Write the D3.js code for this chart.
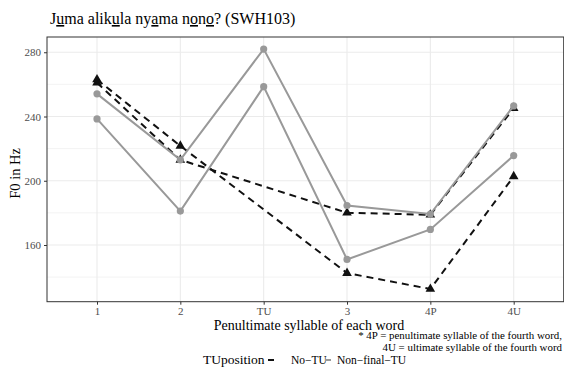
<!DOCTYPE html>
<html>
<head>
<meta charset="utf-8">
<script src="https://cdn.jsdelivr.net/npm/d3@7"></script>
<style>
  body { margin: 0; background: #fff; }
  text { font-family: "Liberation Serif", "DejaVu Serif", serif; }
</style>
</head>
<body>
<script>
// categories on the x axis
var positions = ['1', '2', 'TU', '3', '4P', '4U'];

// F0 values (Hz); null = no value at that position
var noTU_a = [263, 221.7, null, 142.5, 132.6, 202.7];
var noTU_b = [261, 213, null, 180.1, 178.8, 245.2];
var nonFinal_a = [254.1, 213, 282, 184.6, 179.3, 246.6];
var nonFinal_b = [238.5, 181.1, 258.6, 151, 169.7, 215.7];

var yTicks = [160, 200, 240, 280];
var yMinor = [140, 180, 220, 260];

var width = 564, height = 370;
var pLeft = 47, pRight = 563.7, pTop = 37, pBottom = 301.7;

var svg = d3.select('body').append('svg').attr('width', width).attr('height', height);

var x = d3.scalePoint().domain(positions).range([pLeft, pRight]).padding(0.6);
var y = d3.scaleLinear().domain([124.7, 289.5]).range([pBottom, pTop]);

// title with underlined vowels
var title = svg.append('text').attr('x', 50).attr('y', 24).attr('font-size', 16).attr('fill', '#000');
var parts = [['J', 0], ['u', 1], ['ma alik', 0], ['u', 1], ['la ny', 0], ['a', 1], ['ma n', 0], ['o', 1], ['n', 0], ['o', 1], ['? (SWH103)', 0]];
parts.forEach(function (p) {
  var t = title.append('tspan').text(p[0]);
  if (p[1]) t.attr('text-decoration', 'underline');
});

// grid
var grid = svg.append('g');
grid.selectAll('.minor').data(yMinor).enter().append('line')
  .attr('x1', pLeft).attr('x2', pRight)
  .attr('y1', function (d) { return y(d); }).attr('y2', function (d) { return y(d); })
  .attr('stroke', '#ebebeb').attr('stroke-width', 0.6);
grid.selectAll('.major').data(yTicks).enter().append('line')
  .attr('x1', pLeft).attr('x2', pRight)
  .attr('y1', function (d) { return y(d); }).attr('y2', function (d) { return y(d); })
  .attr('stroke', '#ebebeb').attr('stroke-width', 1.1);
grid.selectAll('.vert').data(positions).enter().append('line')
  .attr('y1', pTop).attr('y2', pBottom)
  .attr('x1', function (d) { return x(d); }).attr('x2', function (d) { return x(d); })
  .attr('stroke', '#ebebeb').attr('stroke-width', 1.1);

// axes
var xAxis = svg.append('g').attr('transform', 'translate(0,' + pBottom + ')')
  .call(d3.axisBottom(x).tickSize(3).tickPadding(3));
var yAxis = svg.append('g').attr('transform', 'translate(' + pLeft + ',0)')
  .call(d3.axisLeft(y).tickValues(yTicks).tickSize(3).tickPadding(3));
[xAxis, yAxis].forEach(function (a) {
  a.attr('font-family', null);
  a.select('.domain').remove();
  a.selectAll('line').attr('stroke', '#333');
  a.selectAll('text').attr('fill', '#4d4d4d').attr('font-size', 11);
});

svg.append('rect').attr('x', pLeft).attr('y', pTop).attr('width', pRight - pLeft).attr('height', pBottom - pTop)
  .attr('fill', 'none').attr('stroke', '#333').attr('stroke-width', 1);

function pts(vals) {
  return positions.map(function (p, i) { return { p: p, v: vals[i] }; })
    .filter(function (d) { return d.v != null; });
}

var line = d3.line().x(function (d) { return x(d.p); }).y(function (d) { return y(d.v); });

var black = [noTU_a, noTU_b];
var grey = [nonFinal_a, nonFinal_b];
var tri = d3.symbol().type(d3.symbolTriangle).size(40);

black.forEach(function (s) {
  svg.append('path').datum(pts(s)).attr('d', line)
    .attr('fill', 'none').attr('stroke', '#111').attr('stroke-width', 2)
    .attr('stroke-dasharray', '7,5');
});
black.forEach(function (s) {
  svg.selectAll(null).data(pts(s)).enter().append('path')
    .attr('d', tri)
    .attr('transform', function (d) { return 'translate(' + x(d.p) + ',' + y(d.v) + ')'; })
    .attr('fill', '#111');
});
grey.forEach(function (s) {
  svg.append('path').datum(pts(s)).attr('d', line)
    .attr('fill', 'none').attr('stroke', '#999').attr('stroke-width', 2);
});
grey.forEach(function (s) {
  svg.selectAll(null).data(pts(s)).enter().append('circle')
    .attr('cx', function (d) { return x(d.p); })
    .attr('cy', function (d) { return y(d.v); })
    .attr('r', 3.6).attr('fill', '#999');
});

// axis titles
svg.append('text').attr('x', 309).attr('y', 330).attr('text-anchor', 'middle')
  .attr('font-size', 14).text('Penultimate syllable of each word');
svg.append('text').attr('transform', 'translate(20,' + ((pTop + pBottom) / 2 + 4) + ') rotate(-90)')
  .attr('text-anchor', 'middle').attr('font-size', 14.5).text('F0 in Hz');

// caption
svg.append('text').attr('x', 562).attr('y', 339).attr('text-anchor', 'end').attr('font-size', 10.9)
  .text('* 4P = penultimate syllable of the fourth word,');
svg.append('text').attr('x', 562).attr('y', 350.5).attr('text-anchor', 'end').attr('font-size', 10.9)
  .text('4U = ultimate syllable of the fourth word');

// legend
var lg = svg.append('g');
lg.append('text').attr('x', 203).attr('y', 364).attr('font-size', 13.5).text('TUposition');
lg.append('line').attr('x1', 268).attr('x2', 274).attr('y1', 360).attr('y2', 360)
  .attr('stroke', '#111').attr('stroke-width', 2);
lg.append('text').attr('x', 291).attr('y', 364).attr('font-size', 11.5).text('No\u2212TU');
lg.append('line').attr('x1', 325).attr('x2', 331).attr('y1', 360).attr('y2', 360)
  .attr('stroke', '#999').attr('stroke-width', 2);
lg.append('text').attr('x', 337).attr('y', 364).attr('font-size', 11.5).text('Non\u2212final\u2212TU');
</script>
</body>
</html>
